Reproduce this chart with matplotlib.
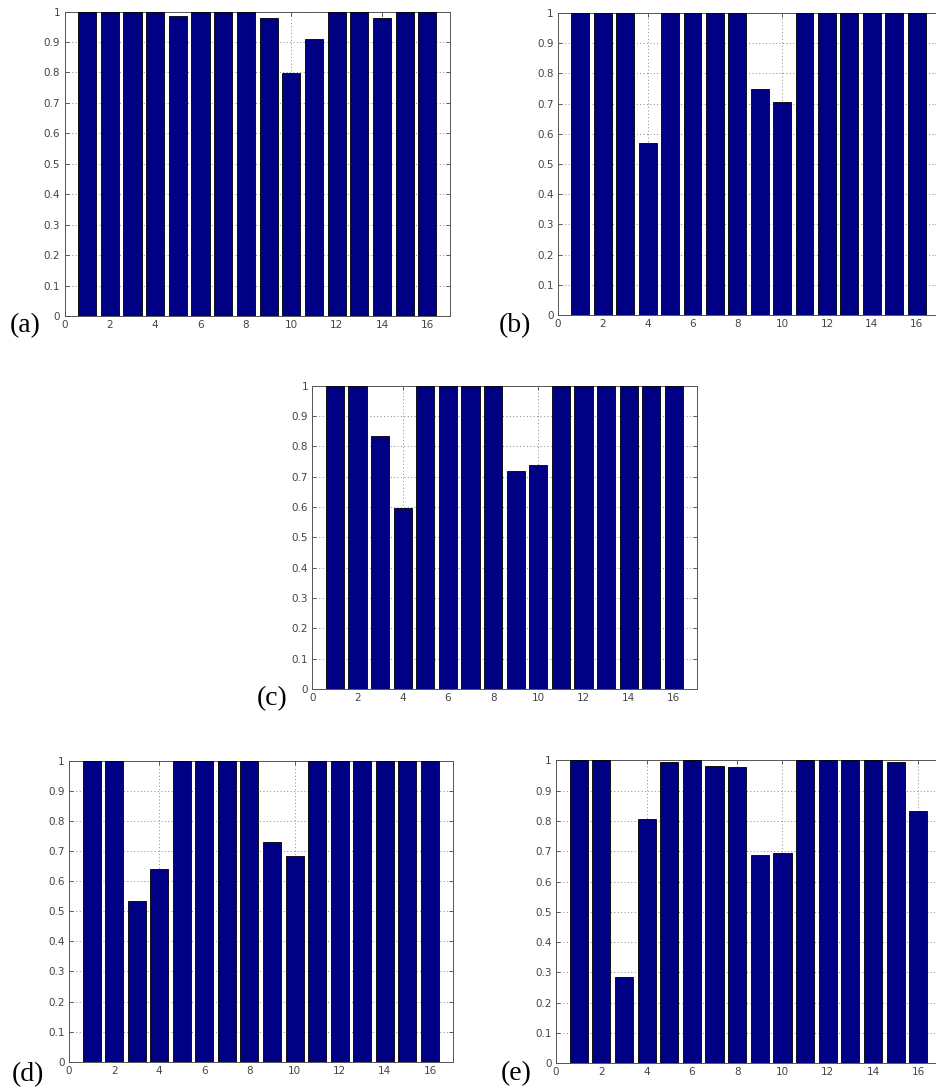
import matplotlib
matplotlib.use("Agg")
import matplotlib.pyplot as plt
import numpy as np

positions = list(range(1, 17))
vals_a = [1, 1, 1, 1, 0.986, 1, 1, 1, 0.979, 0.799, 0.91, 1, 1, 0.979, 1, 1]
vals_b = [1, 1, 1, 0.571, 1, 1, 1, 1, 0.748, 0.705, 1, 1, 1, 1, 1, 1]
vals_c = [1, 1, 0.834, 0.596, 1, 1, 1, 1, 0.718, 0.737, 1, 1, 1, 1, 1, 1]
vals_d = [1, 1, 0.535, 0.641, 1, 1, 1, 1, 0.729, 0.684, 1, 1, 1, 1, 1, 1]
vals_e = [1, 1, 0.286, 0.806, 0.993, 1, 0.982, 0.977, 0.686, 0.694, 1, 1, 1, 1, 0.993, 0.833]
panel_labels = ["(a)", "(b)", "(c)", "(d)", "(e)"]
xticks = [0, 2, 4, 6, 8, 10, 12, 14, 16]
yticks = [0, 0.1, 0.2, 0.3, 0.4, 0.5, 0.6, 0.7, 0.8, 0.9, 1]
ytick_labels = ["0", "0.1", "0.2", "0.3", "0.4", "0.5", "0.6", "0.7", "0.8", "0.9", "1"]

W, H = 936, 1092
fig = plt.figure(figsize=(W / 100, H / 100), dpi=100)

# axes boxes in pixels: left, top, right, bottom
boxes = [
    (64.5, 11.5, 450, 316),
    (558, 13, 939, 315),
    (312.3, 385.7, 696.5, 689),
    (69, 760.7, 452.5, 1061.7),
    (556, 760.3, 941, 1063.3),
]
label_pos = [(25, 326), (515, 326), (272, 699), (28, 1075), (516, 1074)]
all_vals = [vals_a, vals_b, vals_c, vals_d, vals_e]

for vals, (l, t, r, b), lab, (lx, ly) in zip(all_vals, boxes, panel_labels, label_pos):
    ax = fig.add_axes([l / W, (H - b) / H, (r - l) / W, (b - t) / H])
    ax.set_axisbelow(True)
    ax.bar(positions, vals, width=0.8, color="#000085", edgecolor="black", linewidth=0.6, zorder=3)
    ax.set_xlim(0, 17)
    ax.set_ylim(0, 1)
    ax.set_xticks(xticks)
    ax.set_xticklabels([str(x) for x in xticks])
    ax.set_yticks(yticks)
    ax.set_yticklabels(ytick_labels)
    ax.grid(True, linestyle=(0, (1, 2.5)), color="#888888", linewidth=0.7, zorder=0)
    ax.tick_params(direction="in", length=3, width=0.6, labelsize=7.5, colors="#444444",
                   top=True, right=True, pad=3)
    for s in ax.spines.values():
        s.set_linewidth(0.7)
        s.set_color("#555555")
    fig.text(lx / W, (H - ly) / H, lab, family="Liberation Serif", fontsize=20,
             ha="center", va="center")

fig.savefig("out.png", dpi=100)
